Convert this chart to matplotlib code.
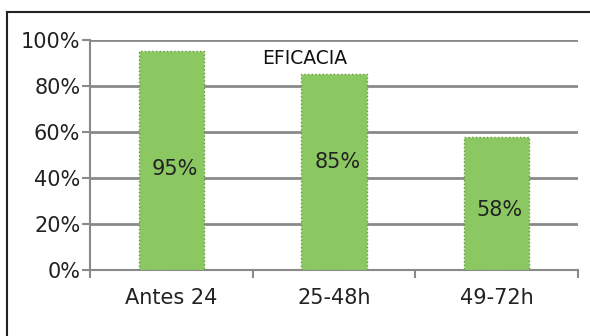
import numpy as np
import matplotlib.pyplot as plt
from matplotlib.lines import Line2D

# datos
categorias = ["Antes 24", "25-48h", "49-72h"]
eficacia = [95, 85, 58]
etiquetas = ["95%", "85%", "58%"]
pos_etiqueta = [44, 47, 26]
ticks_y = [0, 20, 40, 60, 80, 100]

W, H = 590, 336
fig = plt.figure(figsize=(W / 100, H / 100), dpi=100)
fig.patch.set_facecolor("white")

# marco exterior
fig.add_artist(Line2D([7 / W, 1], [1 - 12 / H, 1 - 12 / H], color="#222222", lw=1.5))
fig.add_artist(Line2D([7 / W, 7 / W], [0, 1 - 12 / H], color="#222222", lw=1.5))

ax = fig.add_axes([90 / W, (H - 270) / H, (578 - 90) / W, (270 - 40) / H])
ax.set_facecolor("white")

x = np.arange(len(categorias)) + 0.5
ax.bar(x, eficacia, width=0.4, color="#8cc862", edgecolor="#5f9a3a",
       linewidth=1.0, linestyle=":", zorder=3)

for xi, txt, yi in zip(x, etiquetas, pos_etiqueta):
    ax.text(xi + 0.02, yi, txt, ha="center", va="center", fontsize=15,
            color="#222222", zorder=4)

ax.text(1.32, 92, "EFICACIA", ha="center", va="center", fontsize=13.5,
        color="#111111", zorder=4)

ax.set_xlim(0, 3)
ax.set_ylim(0, 100)
ax.set_yticks(ticks_y)
ax.set_yticklabels([f"{t}%" for t in ticks_y], fontsize=15, color="#222222")
ax.yaxis.grid(True, color="#8a8a8a", lw=2, zorder=1)

ax.set_xticks(x)
ax.set_xticklabels(categorias, fontsize=15, color="#222222")
ax.set_xticks([0, 1, 2, 3], minor=True)
ax.tick_params(axis="x", which="major", length=0, pad=13)
ax.tick_params(axis="x", which="minor", length=6, width=1.5, color="#8a8a8a", direction="out")
ax.tick_params(axis="y", length=6, width=1.5, color="#8a8a8a", pad=1)

for s in ["top", "right"]:
    ax.spines[s].set_visible(False)
ax.spines["left"].set_color("#8a8a8a")
ax.spines["left"].set_linewidth(1.5)
ax.spines["bottom"].set_color("#8a8a8a")
ax.spines["bottom"].set_linewidth(1.5)

fig.savefig("out.png", dpi=100, facecolor="white")
